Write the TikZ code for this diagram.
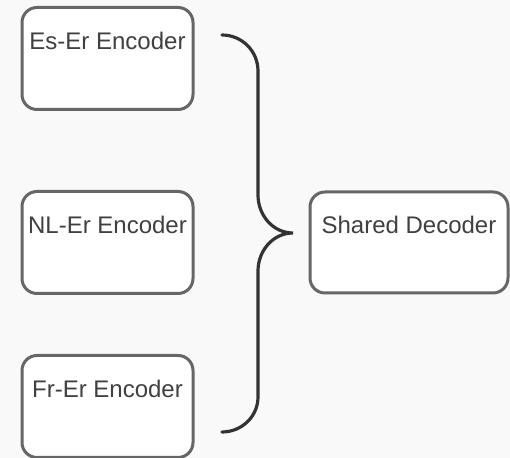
\documentclass[tikz,border=0pt]{standalone}
\usepackage{fontspec}
\setmainfont{Liberation Sans}
\usepackage{tikz}
\usetikzlibrary{positioning}
\definecolor{bgcol}{HTML}{F9F9F9}
\definecolor{boxcol}{HTML}{666666}
\definecolor{textcol}{HTML}{404040}
\definecolor{bracecol}{HTML}{333333}

\begin{document}
\begin{tikzpicture}[
        x=0.5pt, y=-0.5pt,
        node distance=92pt, % vertical spacing of the encoders
        on grid,
        block/.style={rectangle, draw=boxcol, line width=1.5pt, rounded corners=7.5pt,
            fill=white, text=textcol, inner sep=0pt, minimum width=85.5pt,
            text height=21pt, text depth=30pt, font=\fontsize{12}{14}\selectfont},
        brace/.style={draw=bracecol, line width=1.6pt, line cap=round}
      ]
        % background and margins
        \fill[bgcol] (0,0) rectangle (510,458);
        \useasboundingbox (0,0) rectangle (510,458);

        % encoders, stacked vertically
        \node[block] (es_enc) at (107.5,58.5) {Es-Er Encoder};
        \node[block, below=of es_enc] (nl_enc) {NL-Er Encoder};
        \node[block, below=82pt of nl_enc] (fr_enc) {Fr-Er Encoder};

        % decoder to the right
        \node[block, minimum width=99pt, text depth=29.5pt, right=150.75pt of nl_enc] (shared_dec) {Shared Decoder};

        % brace end points
        \coordinate (brace_top) at (222,35);
        \coordinate (brace_tip) at (293,233);
        \coordinate (brace_bot) at (222,432);

        % curly brace
        \draw[brace] (brace_top) to[out=0, in=90] (258,71) -- (258,195)
            to[out=-90, in=180] (brace_tip)
            to[out=180, in=90] (258,271) -- (258,397)
            to[out=-90, in=0] (brace_bot);
    \end{tikzpicture}
\end{document}
